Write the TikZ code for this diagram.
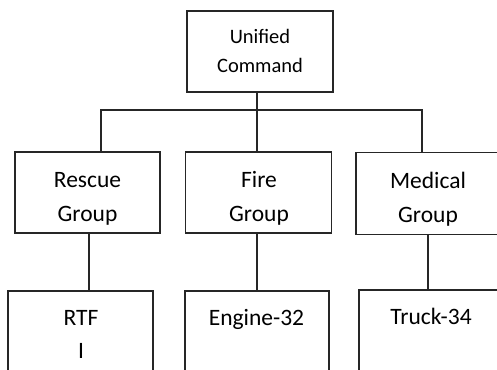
\documentclass[tikz,border=0pt]{standalone}
\usepackage{fontspec}
\setmainfont{Carlito}
\begin{document}
\begin{tikzpicture}[x=1pt,y=-1pt,
  box/.style={draw=black!85, line width=1.4pt, rectangle, inner sep=0pt},
  conn/.style={draw=black!85, line width=1.4pt},
  lbl/.style={inner sep=0pt, anchor=base, font=\fontsize{23.5}{28}\selectfont, text=black},
  lbltop/.style={lbl, font=\fontsize{20.5}{25}\selectfont}]
\useasboundingbox (0,0) rectangle (497,369);
\clip (0,0) rectangle (497,369);
% boxes
\node[box, minimum width=146pt, minimum height=81pt] (top) at (260,51.5) {};
\node[box, minimum width=145pt, minimum height=81pt] (rescue) at (87.5,192.5) {};
\node[box, minimum width=146pt, minimum height=81pt] (fire) at (258.5,192.5) {};
\node[box, minimum width=145pt, minimum height=82pt] (medical) at (428.5,193.5) {};
\node[box, minimum width=145pt, minimum height=130pt] (rtf) at (80.5,356) {};
\node[box, minimum width=144pt, minimum height=130pt] (engine) at (257,356) {};
\node[box, minimum width=145pt, minimum height=130pt] (truck) at (431.5,355) {};
% labels
\node[lbltop] (t1) at (260,43.3) {Unified};
\node[lbltop] (t2) at (260,72.7) {Command};
\node[lbl] (r1) at (87.5,187.7) {Rescue};
\node[lbl] (r2) at (87.5,221.7) {Group};
\node[lbl] (f1) at (259,187.7) {Fire};
\node[lbl] (f2) at (259,221.7) {Group};
\node[lbl] (m1) at (428,188) {Medical};
\node[lbl] (m2) at (428,222) {Group};
\node[lbl] (b1) at (81,325) {RTF};
\node[lbl] (b2) at (81,358) {I};
\node[lbl] (e1) at (256.5,325) {Engine-32};
\node[lbl] (k1) at (431,324.5) {Truck-34};
% connectors
\coordinate (busL) at (101,110);
\coordinate (busM) at (257,110);
\coordinate (busR) at (422,110);
\coordinate (dropR) at (428,0);
\draw[conn] (busM |- top.south) -- (busM |- fire.north);
\draw[conn] (busL |- rescue.north) -- (busL) -- (busR) -- (busR |- medical.north);
\draw[conn] ([xshift=1.5pt]rescue.south) -- ([xshift=1.5pt]rescue.south |- rtf.north);
\draw[conn] (busM |- fire.south) -- (busM |- engine.north);
\draw[conn] (dropR |- medical.south) -- (dropR |- truck.north);
\end{tikzpicture}
\end{document}
